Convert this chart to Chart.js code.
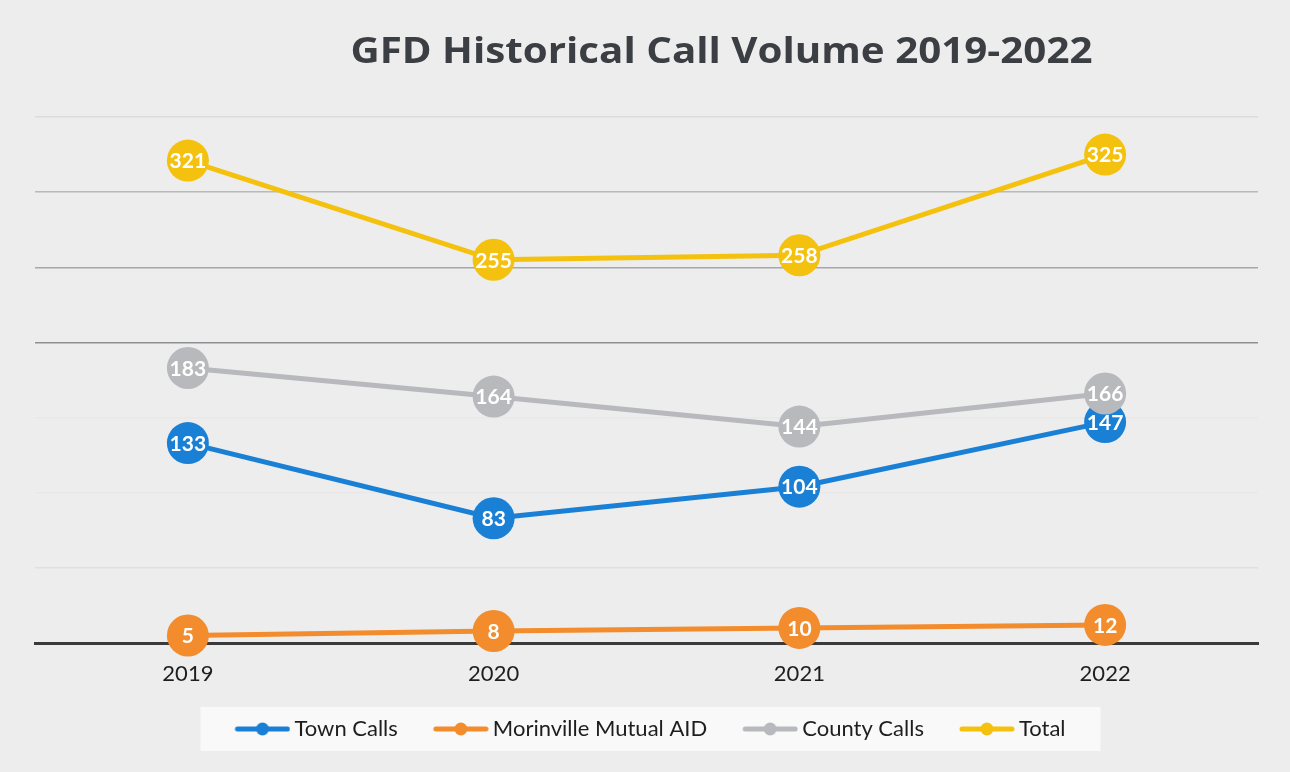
<!DOCTYPE html>
<html>
<head>
<meta charset="utf-8">
<script src="https://cdn.jsdelivr.net/npm/chart.js@4/dist/chart.umd.min.js"></script>
<style>
  html, body { margin: 0; padding: 0; }
  body { background: #ededed; }
  #wrap { width: 1290px; height: 772px; position: relative; }
</style>
</head>
<body>
<div id="wrap"><canvas id="myChart"></canvas></div>
<script>
const years = ['2019', '2020', '2021', '2022'];
const townCalls = [133, 83, 104, 147];
const mutualAid = [5, 8, 10, 12];
const countyCalls = [183, 164, 144, 166];
const totalCalls = [321, 255, 258, 325];
const seriesNames = ['Town Calls', 'Morinville Mutual AID', 'County Calls', 'Total'];
const yTicks = [0, 50, 100, 150, 200, 250, 300, 350];

const colors = ['#1a80d5', '#f38c2c', '#b8b9bd', '#f4c10f'];
const titleText = 'GFD Historical Call Volume 2019-2022';

// the scan lost some grid lines, keep that look
const gridShade = {
  350: '#dcdcde', 300: '#b7b9be', 250: '#a5a7aa', 200: '#8f9092',
  150: 'rgba(0,0,0,0.02)', 100: 'rgba(0,0,0,0.02)', 50: '#dfdfe0', 0: 'rgba(0,0,0,0)'
};

// legend marker: line with a dot, blank room on the left for spacing
function makeMarker(color) {
  const c = document.createElement('canvas');
  c.width = 70; c.height = 14;
  const g = c.getContext('2d');
  g.strokeStyle = color;
  g.lineWidth = 5;
  g.lineCap = 'round';
  g.beginPath(); g.moveTo(17, 7); g.lineTo(67, 7); g.stroke();
  g.fillStyle = color;
  g.beginPath(); g.arc(42, 7, 6.5, 0, Math.PI * 2); g.fill();
  return c;
}
const markers = colors.map(makeMarker);

const valueLabels = {
  id: 'valueLabels',
  afterDatasetDraw(chart, args) {
    const ctx = chart.ctx;
    const ds = chart.data.datasets[args.index];
    ctx.save();
    ctx.fillStyle = '#ffffff';
    ctx.font = 'bold 21px Lato';
    ctx.textAlign = 'center';
    ctx.textBaseline = 'middle';
    args.meta.data.forEach((pt, i) => {
      ctx.fillText(String(ds.data[i]), pt.x, pt.y + 1);
    });
    ctx.restore();
  }
};

const paperBits = {
  id: 'paperBits',
  beforeDraw(chart) {
    const ctx = chart.ctx;
    const lg = chart.legend;
    if (lg && lg.legendHitBoxes && lg.legendHitBoxes.length) {
      const hb = lg.legendHitBoxes;
      const left = hb[0].left - 27;
      const right = hb[hb.length - 1].left + hb[hb.length - 1].width + 35;
      const cy = hb[0].top + hb[0].height / 2;
      ctx.save();
      ctx.fillStyle = '#f9f9f9';
      ctx.fillRect(left, cy - 22, right - left, 44);
      ctx.restore();
    }
  },
  afterDraw(chart) {
    const ctx = chart.ctx;
    const a = chart.chartArea;
    ctx.save();
    ctx.font = 'bold 36px "Open Sans"';
    ctx.textAlign = 'center';
    ctx.textBaseline = 'alphabetic';
    ctx.fillStyle = '#3b3e42';
    const sx = 742 / ctx.measureText(titleText).width;
    ctx.translate((a.left + a.right) / 2 + 75, 63);
    ctx.scale(sx, 1);
    ctx.fillText(titleText, 0, 0);
    ctx.restore();
  }
};

const datasets = [townCalls, mutualAid, countyCalls, totalCalls].map((vals, i) => ({
  label: seriesNames[i],
  data: vals,
  borderColor: colors[i],
  backgroundColor: colors[i],
  pointBackgroundColor: colors[i],
  pointBorderWidth: 0,
  pointRadius: 21,
  pointHoverRadius: 21,
  borderWidth: 5,
  tension: 0,
  order: seriesNames.length - i,
  clip: false
}));

new Chart(document.getElementById('myChart'), {
  type: 'line',
  data: { labels: years, datasets: datasets },
  options: {
    responsive: true,
    maintainAspectRatio: false,
    animation: false,
    events: [],
    layout: { padding: { left: 35, right: 32, top: 117, bottom: 22 } },
    scales: {
      x: {
        offset: true,
        grid: { display: false, drawTicks: false },
        border: { display: true, color: '#3a3a3c', width: 3 },
        ticks: { color: '#1e1e1e', padding: 19, font: { family: 'Lato', size: 22, lineHeight: 1.05 } },
        afterFit(scale) { scale.height = 47; }
      },
      y: {
        min: 0,
        max: 350,
        afterBuildTicks(scale) { scale.ticks = yTicks.map(v => ({ value: v })); },
        grid: {
          drawTicks: false,
          lineWidth: 1.5,
          color: c => gridShade[c.tick ? c.tick.value : 0] || 'rgba(0,0,0,0)'
        },
        border: { display: false },
        ticks: { display: false }
      }
    },
    plugins: {
      title: { display: false },
      tooltip: { enabled: false },
      legend: {
        position: 'bottom',
        labels: {
          usePointStyle: true,
          pointStyleWidth: 56,
          padding: 28,
          color: '#1e1e1e',
          font: { family: 'Lato', size: 22 },
          sort: (a, b) => a.datasetIndex - b.datasetIndex,
          generateLabels(chart) {
            return chart.data.datasets.map((ds, i) => ({
              text: ds.label,
              fillStyle: colors[i],
              strokeStyle: colors[i],
              lineWidth: 0,
              pointStyle: markers[i],
              datasetIndex: i,
              hidden: false,
              fontColor: '#1e1e1e'
            }));
          }
        }
      }
    }
  },
  plugins: [paperBits, valueLabels]
});
</script>
</body>
</html>
